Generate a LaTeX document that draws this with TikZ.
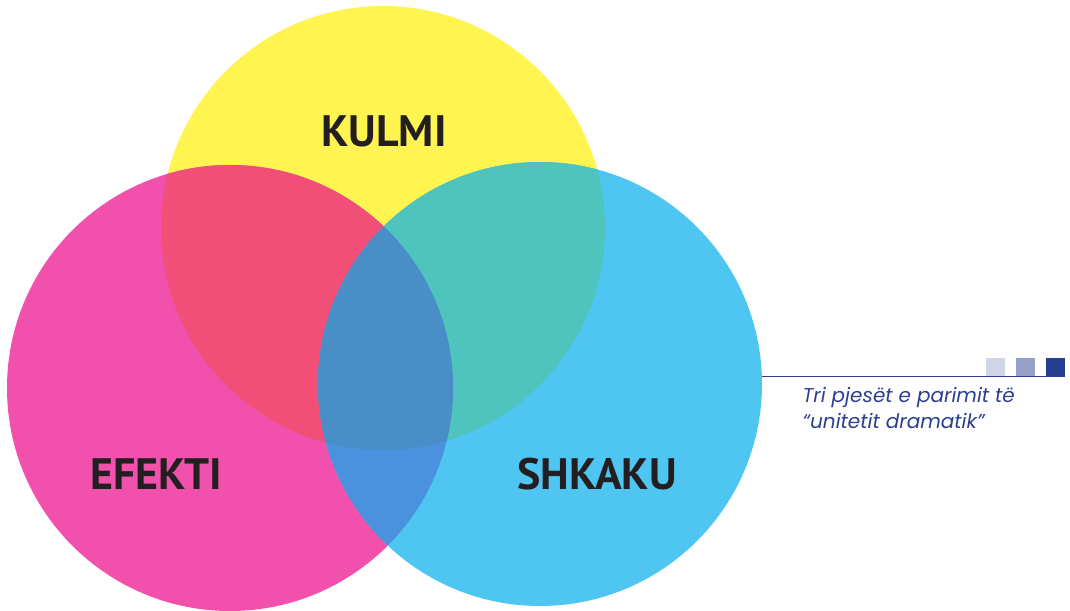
\documentclass[tikz,border=0pt]{standalone}
\usepackage{fontspec}
\setmainfont{Poppins}
\newfontfamily\labelfont{PT Sans}
\usetikzlibrary{positioning}

\definecolor{kyellow}{HTML}{FFF450}
\definecolor{kpink}{HTML}{F150AC}
\definecolor{kcyan}{HTML}{4FC6F2}
\definecolor{kyp}{HTML}{F14E78}
\definecolor{kyc}{HTML}{4EC4BC}
\definecolor{kpc}{HTML}{4A91DE}
\definecolor{kall}{HTML}{4A8EC8}
\definecolor{labelblack}{HTML}{231F20}
\definecolor{legendblue}{HTML}{2E3F8F}
\definecolor{sqlight}{HTML}{D0D6E6}
\definecolor{sqmid}{HTML}{94A0C8}
\definecolor{sqdark}{HTML}{253E8F}

\tikzset{
  venntext/.style={font=\labelfont\bfseries\fontsize{44}{44}\selectfont, text=labelblack},
  captiontext/.style={font=\itshape\fontsize{20}{26}\selectfont, text=legendblue, align=left}
}

\begin{document}
\begin{tikzpicture}[x=1pt,y=1pt]
    \useasboundingbox (0,0) rectangle (1070,610);
    % Circle centres
    \coordinate (ycentre) at (383,382);
    \coordinate (pcentre) at (230,222);
    \coordinate (ccentre) at (540,226);

    % Base circles
    \fill[kyellow] (ycentre) circle (222);
    \fill[kpink] (pcentre) circle (223);
    \fill[kcyan] (ccentre) circle (222);

    % Overlaps
    \begin{scope}
        \clip (ycentre) circle (222);
        \fill[kyp] (pcentre) circle (223);
        \fill[kyc] (ccentre) circle (222);
    \end{scope}
    \begin{scope}
        \clip (pcentre) circle (223);
        \fill[kpc] (ccentre) circle (222);
        \clip (ycentre) circle (222);
        \fill[kall] (ccentre) circle (222);
    \end{scope}

    % Labels
    \node[venntext] (kulmi) at (384,479) {KULMI};
    \node[venntext] (efekti) at (156,136) {EFEKTI};
    \node[venntext] (shkaku) at (597,136) {SHKAKU};

    % Side caption
    \coordinate (rulestart) at (762,233.5);
    \coordinate (ruleend) at (1065,233.5);
    \draw[legendblue, line width=1.2pt] (rulestart) -- (ruleend);
    \foreach \x/\c in {986/sqlight, 1016/sqmid, 1046/sqdark}
        \fill[\c] (\x,234) rectangle ++(19,18);
    \node[captiontext, anchor=base west] (caption) at (799,181) {Tri pjesët e parimit të\\“unitetit dramatik”};
\end{tikzpicture}
\end{document}
